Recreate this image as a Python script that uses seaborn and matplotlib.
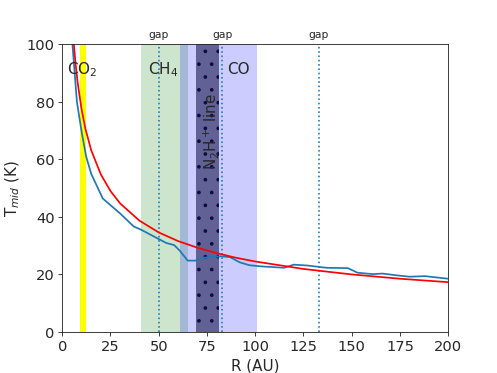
import numpy as np
import pandas as pd
import matplotlib
matplotlib.use("Agg")
import matplotlib.pyplot as plt
import matplotlib.transforms as mtransforms
import seaborn as sns

# Measured midplane temperature (blue)
r_data = [4, 5.3, 7.6, 10.2, 12.4, 15, 21, 30, 37, 41, 50, 54, 58, 61, 65, 69, 73,
          82, 87, 92, 97, 103, 115, 120, 127, 137, 148, 153, 161, 166, 173, 180, 188, 200]
t_data = [118, 100, 80, 69, 61, 55, 46.4, 41.2, 36.7, 35.5, 32.3, 30.9, 30.2, 28.2, 24.8,
          24.8, 25.8, 26.3, 26.0, 24.2, 23.2, 22.8, 22.3, 23.4, 23.1, 22.3, 22.2, 20.6,
          20.1, 20.3, 19.7, 19.2, 19.4, 18.5]

# Model temperature (red)
r_model = [5, 6, 7, 8, 10, 12, 15, 20, 25, 30, 40, 50, 60, 70, 80, 90, 100, 125, 150, 175, 200]
t_model = [109.5, 100, 92.6, 86.6, 77.5, 70.7, 63.2, 54.8, 49.0, 44.7, 38.7, 34.6, 31.6,
           29.3, 27.4, 25.8, 24.5, 21.9, 20.0, 18.5, 17.3]

# Snow lines / emission bands (R ranges in AU)
co2_band = (9, 12.5)
ch4_band = (41, 65)
co_band = (61, 101)
n2h_band = (69.3, 81.3)
gap_positions = [50, 83, 133]

sns.set_style("ticks")
plt.rcParams["font.family"] = ["DejaVu Sans"]
plt.rcParams["hatch.linewidth"] = 1.0

fig, ax = plt.subplots(figsize=(6.4, 4.8), dpi=77.8)

ax.axvspan(*co2_band, color="yellow", lw=0)
ax.axvspan(*ch4_band, color="g", alpha=0.2, lw=0)
ax.axvspan(*co_band, color="b", alpha=0.2, lw=0)
ax.axvspan(*n2h_band, facecolor="#616196", edgecolor="#0c0c40", hatch=".", lw=0)

for g in gap_positions:
    ax.axvline(g, color="#1f77b4", ls=":", lw=1.5)

df_data = pd.DataFrame({"R": r_data, "T": t_data})
df_model = pd.DataFrame({"R": r_model, "T": t_model})
sns.lineplot(data=df_data, x="R", y="T", color="#1f77b4", lw=1.6, ax=ax, estimator=None, sort=False)
sns.lineplot(data=df_model, x="R", y="T", color="red", lw=1.6, ax=ax, estimator=None, sort=False)

ax.set_xlim(0, 200)
ax.set_ylim(0, 100)
ax.set_xlabel("R (AU)", fontsize=14)
ax.set_ylabel("T$_{mid}$ (K)", fontsize=14)
ax.tick_params(labelsize=13.5)
for s in ax.spines.values():
    s.set_visible(True)

trans = mtransforms.blended_transform_factory(ax.transData, ax.transAxes)
for g in gap_positions:
    ax.text(g, 1.015, "gap", transform=trans, ha="center", va="bottom", fontsize=10)

ax.text(2.5, 91.5, "CO$_2$", fontsize=14, va="center", ha="left")
ax.text(44.5, 91.5, "CH$_4$", fontsize=14, va="center", ha="left")
ax.text(85.5, 91.5, "CO", fontsize=14, va="center", ha="left")
ax.text(77, 70, "N$_2$H$^+$ line", fontsize=14, rotation=90, va="center", ha="center")

fig.savefig("out.png", dpi=77.8)
